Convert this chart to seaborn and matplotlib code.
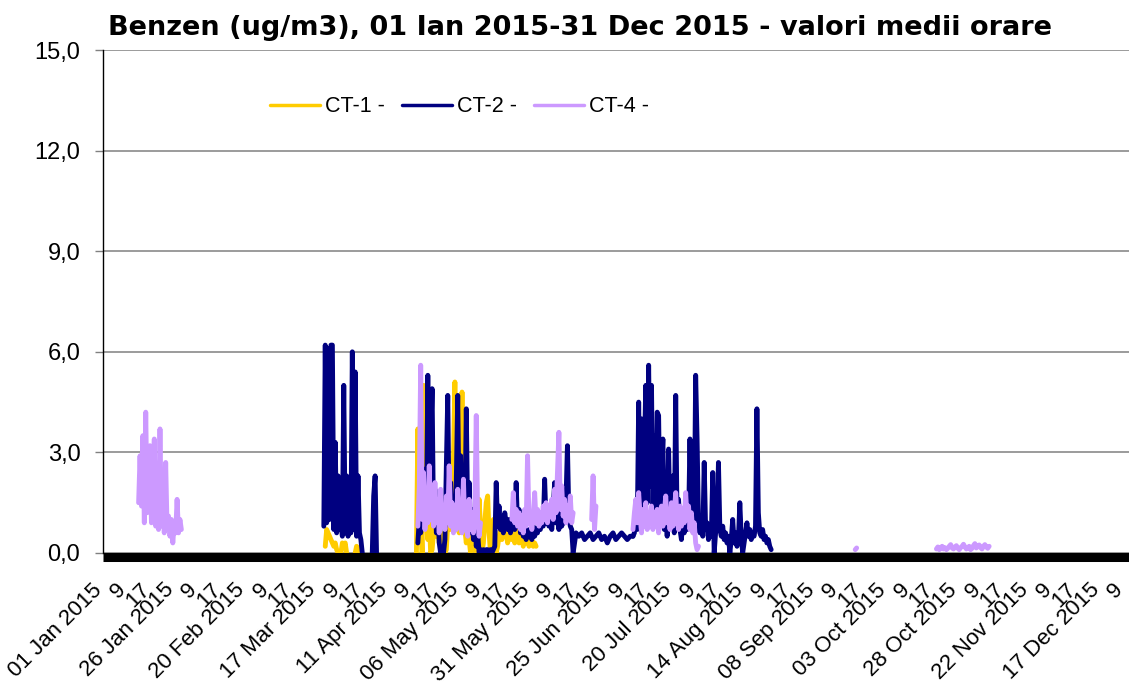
import numpy as np
import pandas as pd
import matplotlib
matplotlib.use('Agg')
import matplotlib.pyplot as plt
import seaborn as sns

# ── Data (days since 01 Jan 2015, half-day samples) ──
STATIONS = ['CT-1 -', 'CT-2 -', 'CT-4 -']
COLORS   = ['#FFCC00', '#000080', '#CC99FF']

# CT-1
ct1_mar_a = [0.2, 0.7, 0.6, 0.5, 0.4, 0.3, 0.2, 0.3, 0.1, 0.0]            # from day 78.0
ct1_mar_b = [0.0, 0.3, 0.2, 0.3, 0.0]                                      # from day 83.5
ct1_mar_c = [0.0, 0.2, 0.15, 0.0]                                          # from day 88.5
ct1_apr = [0.0, 3.7, 0.5, 1.2, 0.0, 5.0, 0.8, 1.5, 0.4, 1.0,
           0.0, 0.1, 0.6, 1.3, 0.5, 0.9, 0.3, 0.6, 0.2, 0.4,
           0.0, 0.1, 0.9, 2.0, 0.7, 1.5, 2.8, 5.1, 1.0, 2.0,
           0.6, 1.4, 4.8, 1.1, 0.7, 0.3, 0.9, 0.4, 0.0, 0.2,
           0.5, 0.2, 0.0, 0.6, 1.6, 0.8, 0.0, 0.3, 0.9, 1.5,
           1.7, 0.6, 0.0, 0.4, 1.0, 0.5, 0.0, 0.2, 0.5, 0.7,
           0.4, 0.9, 0.5, 0.6, 0.3, 0.5, 0.8, 0.4, 0.6, 0.3,
           0.5, 0.7, 0.3, 0.4, 0.6, 0.2, 0.4, 0.3, 0.5, 0.2,
           0.3, 0.4, 0.2, 0.3, 0.2]                                        # from day 110.0

# CT-2
ct2_mar = [0.8, 6.2, 0.9, 6.1, 1.0, 6.2, 6.2, 0.7, 3.3, 0.6,
           2.3, 0.7, 1.0, 0.5, 5.0, 0.6, 2.3, 0.5, 0.8, 0.6,
           6.0, 0.7, 5.4, 0.5, 2.3, 0.6, 0.4, 0.0]                         # from day 77.5
ct2_apr_a = [0.0, 1.7, 2.3, 0.0]                                           # from day 94.5
ct2_apr = [0.3, 1.0, 0.6, 1.5, 0.8, 2.5, 1.0, 5.3, 1.2, 3.2,
           4.9, 0.9, 1.9, 0.6, 1.4, 0.3, 0.0, 0.1, 0.0, 0.4,
           2.6, 4.7, 1.0, 2.1, 0.8, 1.6, 0.7, 2.2, 4.7, 1.1,
           2.9, 0.8, 1.7, 0.9, 4.3, 1.0, 2.1, 0.6, 1.3, 0.4,
           1.0, 0.2, 0.6, 0.0, 0.1, 0.0, 0.1, 0.0, 0.1, 0.1,
           0.0, 0.1, 0.0, 0.1, 0.2, 2.1, 0.8, 1.4, 0.7, 1.0,
           0.6, 1.2, 0.9, 0.7, 1.0, 0.6, 0.8, 1.1, 0.7, 2.1,
           0.8, 1.3, 0.6, 0.9, 0.5, 0.8, 0.4, 0.7, 0.5, 0.6,
           0.4, 0.8, 0.5, 0.7, 0.6, 0.9, 0.7, 1.2, 0.8, 2.2,
           0.9, 1.4, 0.8, 1.1, 0.7, 1.3, 2.1, 0.9, 1.0, 0.7,
           1.2, 0.8, 1.0, 0.9, 1.6, 3.2, 1.1, 0.8, 0.7, 0.0]               # from day 110.5
ct2_jun = [0.0, 0.6, 0.5, 0.6, 0.4, 0.5, 0.6, 0.4, 0.5, 0.6,
           0.4, 0.5, 0.3, 0.5, 0.6, 0.4, 0.5, 0.6, 0.5, 0.4,
           0.5, 0.5]                                                       # from day 165.0, daily
ct2_jul = [0.5, 0.6, 1.5, 0.7, 4.5, 1.2, 4.0, 0.8, 3.0, 5.0,
           1.5, 5.6, 2.0, 5.0, 1.0, 3.5, 0.8, 4.2, 4.1, 1.0,
           2.4, 3.4, 0.7, 2.0, 0.5, 3.1, 0.9, 1.5, 2.3, 0.6,
           4.7, 0.8, 1.6, 0.7, 0.4, 1.0, 0.6, 1.3, 0.7, 0.9,
           3.4, 1.0, 2.0, 0.8, 5.3, 3.4, 0.9, 0.6, 1.1, 0.5,
           2.7, 0.7, 0.9, 0.4, 0.8, 0.5, 2.4, 0.0, 0.6, 0.9,
           2.7, 0.7, 0.5, 0.8, 0.4, 0.6, 0.3, 0.5, 0.0, 0.4,
           1.0, 0.3, 0.6, 0.2, 0.4, 1.5, 0.5, 0.0, 0.3, 0.6,
           0.9, 0.5, 0.7, 0.4, 0.6, 0.5, 0.8, 4.3, 1.2, 0.6,
           0.5, 0.7, 0.4, 0.5, 0.3, 0.4, 0.2, 0.1]                         # from day 186.0

# CT-4
ct4_jan = [1.5, 2.9, 1.4, 3.5, 0.9, 4.2, 1.2, 2.6, 3.2, 0.9,
           2.2, 3.4, 0.8, 2.4, 0.7, 3.7, 0.8, 2.2, 0.6, 2.7,
           0.7, 1.1, 0.5, 1.0, 0.3, 0.9, 0.6, 1.6, 0.6, 1.0, 0.7]          # from day 12.5
ct4_apr = [0.8, 2.0, 5.6, 1.0, 2.4, 0.7, 1.9, 0.9, 2.6, 1.0,
           1.8, 0.8, 2.1, 0.9, 1.6, 0.6, 1.9, 0.8, 1.4, 0.7,
           1.7, 0.9, 2.6, 0.8, 1.5, 0.6, 1.3, 0.7, 1.9, 0.8,
           1.2, 0.6, 2.2, 0.7, 1.4, 0.5, 1.6, 0.7, 1.2, 0.6,
           1.3, 4.1, 1.0, 0.5, 0.9]                                        # from day 110.5
ct4_may = [1.0, 1.8, 0.9, 1.3, 0.8, 1.2, 0.7, 1.1, 0.6, 1.3,
           0.8, 2.9, 1.0, 1.2, 0.7, 1.1, 1.8, 0.9, 1.3, 0.8,
           1.2, 0.9, 1.4, 1.0, 1.5, 0.9, 1.3, 1.1, 1.6, 1.0,
           1.9, 1.2, 2.4, 3.6, 1.3, 2.0, 1.1, 1.6, 0.9, 1.4,
           1.0, 1.7, 0.9, 1.2]                                             # from day 143.5
ct4_jun = [1.0, 2.3, 0.7, 1.4]                                             # from day 171.5
ct4_jul = [0.7, 1.2, 1.6, 0.9, 1.8, 1.1, 0.6, 1.3, 0.8, 1.5,
           0.7, 1.2, 0.9, 1.4, 0.7, 1.2, 0.8, 1.3, 0.6, 1.1,
           1.4, 0.8, 1.2, 1.7, 0.9, 1.3, 0.7, 1.5, 0.8, 1.2,
           1.8, 1.0, 0.7, 1.4, 0.8, 1.3, 0.9, 1.8, 1.0, 1.4,
           0.7, 1.2, 0.6, 0.9, 0.3, 0.1, 0.2]                              # from day 186.0
ct4_sep = [0.1, 0.15]                                                      # from day 264.0
ct4_oct = [0.12, 0.18, 0.10, 0.15, 0.20, 0.12, 0.16, 0.10, 0.14, 0.20,
           0.25, 0.15, 0.12, 0.18, 0.22, 0.14, 0.10, 0.16, 0.20, 0.26,
           0.18, 0.12, 0.15, 0.20, 0.10, 0.14, 0.22, 0.28, 0.15, 0.20,
           0.24, 0.16, 0.12, 0.20, 0.25, 0.18, 0.14, 0.20]                 # from day 292.5

SEGMENTS = [
    ('CT-1 -', 78.0, 0.5, ct1_mar_a), ('CT-1 -', 83.5, 0.5, ct1_mar_b),
    ('CT-1 -', 88.5, 0.5, ct1_mar_c), ('CT-1 -', 110.0, 0.5, ct1_apr),
    ('CT-2 -', 77.5, 0.5, ct2_mar), ('CT-2 -', 94.5, 0.5, ct2_apr_a),
    ('CT-2 -', 110.5, 0.5, ct2_apr), ('CT-2 -', 165.0, 1.0, ct2_jun),
    ('CT-2 -', 186.0, 0.5, ct2_jul),
    ('CT-4 -', 12.5, 0.5, ct4_jan), ('CT-4 -', 110.5, 0.5, ct4_apr),
    ('CT-4 -', 143.5, 0.5, ct4_may), ('CT-4 -', 171.5, 0.5, ct4_jun),
    ('CT-4 -', 186.0, 0.5, ct4_jul), ('CT-4 -', 264.0, 0.5, ct4_sep),
    ('CT-4 -', 292.5, 0.5, ct4_oct),
]

DATE_LABELS = ['01 Jan 2015', '26 Jan 2015', '20 Feb 2015', '17 Mar 2015', '11 Apr 2015',
               '06 May 2015', '31 May 2015', '25 Jun 2015', '20 Jul 2015', '14 Aug 2015',
               '08 Sep 2015', '03 Oct 2015', '28 Oct 2015', '22 Nov 2015', '17 Dec 2015']
HOUR_LABELS = ['9', '17']
Y_TICKS  = [0, 3, 6, 9, 12, 15]
Y_LABELS = ['0,0', '3,0', '6,0', '9,0', '12,0', '15,0']
TITLE = 'Benzen (ug/m3), 01 Ian 2015-31 Dec 2015 - valori medii orare'

# ── Long table, one unit per continuous segment ──────────────────────────────
rows = []
for uid, (name, start, step, vals) in enumerate(SEGMENTS):
    for i, v in enumerate(vals):
        rows.append({'station': name, 'unit': uid, 'hour': (start + i * step) * 24, 'value': v})
df = pd.DataFrame(rows)

# ── Plot ─────────────────────────────────────────────────────────────────────
sns.set_style('white')
plt.rcParams.update({
    'font.family': ['Liberation Sans', 'DejaVu Sans'],
    'text.color': 'black',
    'xtick.color': 'black',
    'ytick.color': 'black',
    'axes.labelcolor': 'black',
})

fig = plt.figure(figsize=(11.29, 6.83), dpi=100)
ax = fig.add_axes([103 / 1129, 130 / 683, 1040 / 1129, 503 / 683])

sns.lineplot(data=df, x='hour', y='value', hue='station', units='unit', estimator=None,
             hue_order=STATIONS, palette=COLORS, linewidth=3.5, sort=False, ax=ax)

ax.set_xlim(0, 8760)
ax.set_ylim(0, 15)
ax.set_xlabel('')
ax.set_ylabel('')

# spines first: moving a spine resets the ticks
for s in ['top', 'right']:
    ax.spines[s].set_visible(False)
ax.spines['left'].set_color('black')
ax.spines['left'].set_linewidth(1.0)
ax.spines['bottom'].set_color('black')
ax.spines['bottom'].set_linewidth(6.5)
ax.spines['bottom'].set_capstyle('butt')
ax.spines['bottom'].set_position(('outward', 3.2))

# x ticks every 200 h: date, '9', '17' (only those inside the year)
xlabels = []
for d in DATE_LABELS:
    xlabels += [d] + HOUR_LABELS
xticks = np.arange(len(xlabels)) * 200
keep = xticks < 8760
ax.set_xticks(xticks[keep])
ax.tick_params(axis='x', length=0, pad=24)
ax.set_xticklabels([l for l, k in zip(xlabels, keep) if k], rotation=45, ha='right',
                   va='baseline', rotation_mode='anchor', fontsize=16, color='black')

ax.set_yticks(Y_TICKS)
ax.tick_params(axis='y', left=True, length=5.8, width=1, color='#808080', pad=10.5)
ax.set_yticklabels(Y_LABELS, fontsize=17, color='black')

ax.grid(axis='y', color='#808080', linewidth=1.1)
ax.grid(axis='x', visible=False)
ax.set_axisbelow(True)

handles, labels = ax.get_legend_handles_labels()
leg = ax.legend(handles, labels, loc='center left', bbox_to_anchor=(270 / 1129, 1 - 107 / 683),
                bbox_transform=fig.transFigure, ncol=3, frameon=False, fontsize=15.5,
                handlelength=2.3, handletextpad=0.25, columnspacing=0.8,
                borderpad=0, borderaxespad=0)
for line in leg.get_lines():
    line.set_linewidth(2.5)
for t in leg.get_texts():
    t.set_color('black')

fig.text(108 / 1129, 1 - 35 / 683, TITLE, fontsize=19.5, fontweight='bold', color='black',
         family='DejaVu Sans', ha='left', va='baseline')

fig.savefig('out.png', dpi=100, facecolor='white')
